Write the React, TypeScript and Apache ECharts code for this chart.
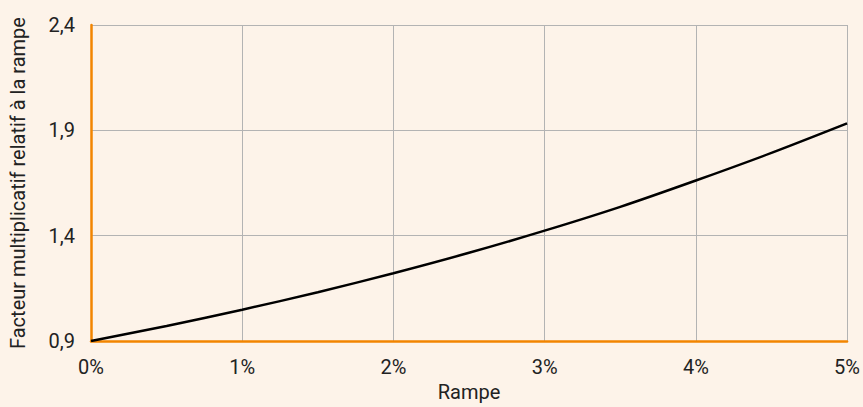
import React, { useEffect, useRef } from "react";
import * as echarts from "echarts";

const rampPercent = [0, 0.5, 1, 1.5, 2, 2.5, 3, 3.5, 4, 4.5, 5];
const factorValues = [0.9, 0.972, 1.049, 1.132, 1.222, 1.319, 1.424, 1.537, 1.662, 1.793, 1.933];
const yTicks = [0.9, 1.4, 1.9, 2.4];

export default function App() {
  const ref = useRef<HTMLDivElement>(null);
  useEffect(() => {
    document.body.style.margin = "0";
    const chart = echarts.init(ref.current!, null, { renderer: "svg" });
    const font = "Roboto";
    chart.setOption({
      animation: false,
      backgroundColor: "#fdf3e9",
      textStyle: { fontFamily: font },
      grid: { left: 87, right: 14, top: 25, bottom: 62 },
      xAxis: {
        type: "value",
        min: 0,
        max: 5,
        interval: 1,
        name: "Rampe",
        nameLocation: "middle",
        nameGap: 40,
        nameTextStyle: { fontSize: 20, color: "#222", fontFamily: font },
        axisLine: { show: true, onZero: false, lineStyle: { color: "#f28500", width: 2.5 } },
        axisTick: { show: false },
        axisLabel: { fontSize: 20, color: "#222", margin: 16, fontFamily: font, formatter: (v: number) => `${v}%` },
        splitLine: { show: true, lineStyle: { color: "#b3b3b3", width: 1 } },
      },
      yAxis: {
        type: "value",
        min: yTicks[0],
        max: yTicks[yTicks.length - 1],
        interval: 0.5,
        name: "Facteur multiplicatif relatif à la rampe",
        nameLocation: "middle",
        nameGap: 63,
        nameTextStyle: { fontSize: 20, color: "#222", fontFamily: font },
        axisLine: { show: true, lineStyle: { color: "#f28500", width: 2.5 } },
        axisTick: { show: false },
        axisLabel: {
          fontSize: 20,
          color: "#222",
          margin: 16,
          fontFamily: font,
          formatter: (v: number) => v.toFixed(1).replace(".", ","),
        },
        splitLine: { show: true, lineStyle: { color: "#b3b3b3", width: 1 } },
      },
      series: [
        {
          type: "line",
          data: rampPercent.map((x, i) => [x, factorValues[i]]),
          smooth: 0.3,
          symbol: "none",
          lineStyle: { color: "#000", width: 2.5 },
          z: 3,
        },
      ],
    });
    return () => chart.dispose();
  }, []);
  return <div ref={ref} style={{ width: 863, height: 407 }} />;
}
